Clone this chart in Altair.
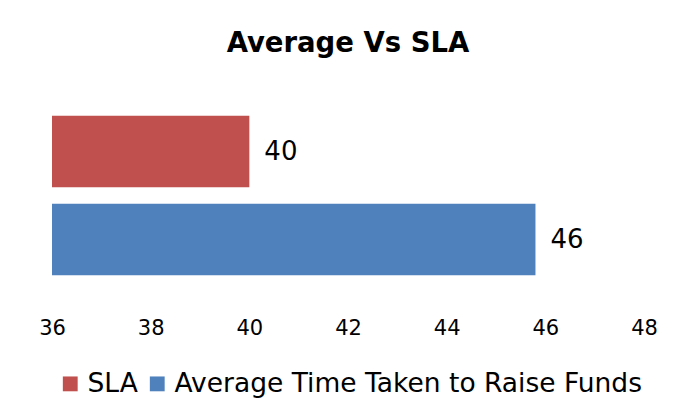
import altair as alt
import pandas as pd

categories = ["SLA", "Average Time Taken to Raise Funds"]
values = [40.0, 45.8]
colors = ["#C0504D", "#4F81BD"]
x_ticks = [36, 38, 40, 42, 44, 46, 48]

df = pd.DataFrame({"series": categories, "value": values})

FONT = "DejaVu Sans"

y_enc = alt.Y("series:N", sort=categories, axis=None,
              scale=alt.Scale(paddingInner=0.19, paddingOuter=0.095))
x_scale = alt.Scale(domain=[36, 48], zero=False, nice=False)

bars = alt.Chart(df).mark_bar().encode(
    y=y_enc,
    x=alt.X("value:Q", scale=x_scale,
            axis=alt.Axis(values=x_ticks, title=None, domain=False, ticks=False,
                          grid=False, labelFontSize=21, labelFont=FONT, labelFlush=False,
                          labelColor="#000000", labelPadding=34)),
    x2=alt.datum(36),
    color=alt.Color("series:N",
                    scale=alt.Scale(domain=categories, range=colors),
                    legend=alt.Legend(title=None, orient="none", direction="horizontal",
                                      legendX=5, legendY=263, symbolType="square",
                                      symbolSize=220, symbolStrokeWidth=0,
                                      labelFontSize=26.5, labelFont=FONT, labelLimit=0,
                                      labelColor="#000000", columnPadding=6,
                                      symbolOffset=0, labelOffset=4, padding=0)),
)

labels = alt.Chart(df).mark_text(align="left", baseline="middle", dx=15,
                                 fontSize=26, font=FONT, color="#000000").encode(
    y=y_enc,
    x=alt.X("value:Q", scale=x_scale),
    text=alt.Text("value:Q", format=".0f"),
)

chart = alt.layer(bars, labels).properties(
    width=592,
    height=176,
    autosize="none",
    padding={"left": 44, "top": 99.5, "right": 35, "bottom": 115},
    title=alt.Title("Average Vs SLA", font=FONT, fontSize=27.5, fontWeight="bold",
                    color="#000000", anchor="middle", baseline="alphabetic", offset=28),
).configure(background="#ffffff").configure_view(stroke=None, strokeWidth=0)

chart.save("out.html", embed_options={"renderer": "svg", "actions": False})
